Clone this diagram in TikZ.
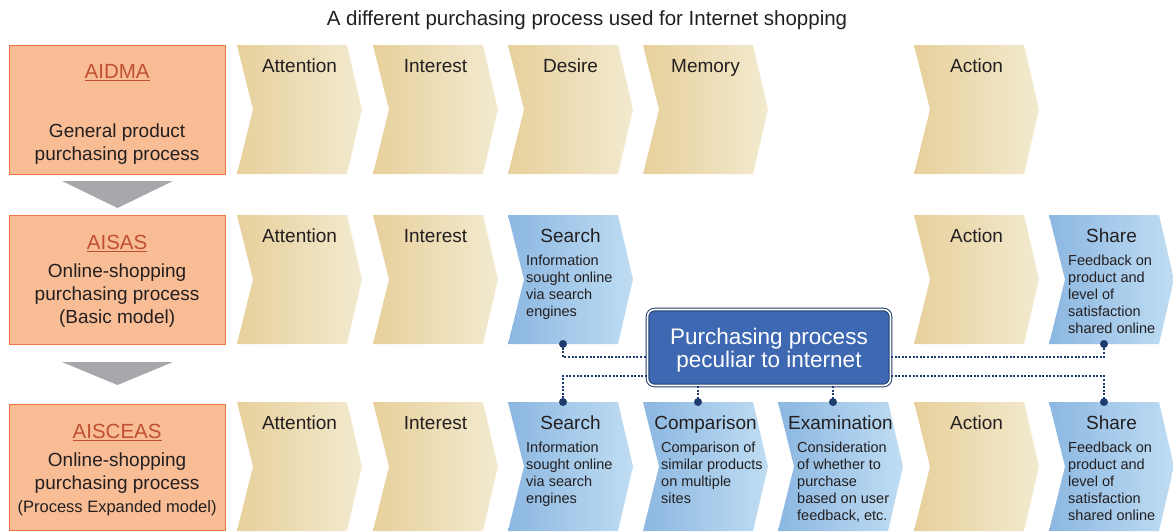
\documentclass[tikz,border=0pt]{standalone}
\usepackage{fontspec}
\setmainfont{Liberation Sans}
\usetikzlibrary{positioning}
\definecolor{modelfill}{HTML}{F9BD95}
\definecolor{modeledge}{HTML}{EE7642}
\definecolor{modelred}{HTML}{C0502F}
\definecolor{arrowgray}{HTML}{A6A8AB}
\definecolor{goldL}{HTML}{E7D09C}
\definecolor{goldR}{HTML}{F2EACF}
\definecolor{blueL}{HTML}{8CB7E1}
\definecolor{blueR}{HTML}{BFDDF3}
\definecolor{ppfill}{HTML}{3F68B2}
\definecolor{navy}{HTML}{1F3C6E}
\definecolor{ink}{HTML}{231F20}
\newcommand\chev[5]{%
  \node[chevbody] (#1) at (#2,#3) {};
  \shade[#4] (#1.north west) -- (#1.north east) -- ([xshift=15pt]#1.east) -- (#1.south east) -- (#1.south west) -- ([xshift=16pt]#1.west) -- cycle;
  \node[chevtitle] (#1-t) at ([xshift=7.5pt,yshift=-27pt]#1.north) {#5};
}

\begin{document}
\begin{tikzpicture}[x=1pt,y=-1pt,
  model/.style={draw=modeledge,line width=1.2pt,fill=modelfill,minimum width=216pt,inner sep=0pt,anchor=north west},
  modeltitle/.style={text=modelred,font=\fontsize{20.5}{24}\selectfont,anchor=base},
  modeltext/.style={text=ink,font=\fontsize{19}{23}\selectfont,align=center,anchor=base},
  chevbody/.style={minimum width=110pt,minimum height=129pt,inner sep=0pt,outer sep=0pt,anchor=north west},
  gold/.style={left color=goldL,right color=goldR},
  blue/.style={left color=blueL,right color=blueR},
  chevtitle/.style={text=ink,font=\fontsize{19}{23}\selectfont,anchor=base},
  chevdesc/.style={text=ink,font=\fontsize{14.5}{17}\selectfont,align=left,anchor=base west,inner sep=0pt},
  link/.style={navy,line width=2.1pt,dash pattern=on 2pt off 1.6pt},
  dot/.style={fill=navy}]
\useasboundingbox (0,0) rectangle (1173,531);

\node[text=ink,font=\fontsize{20.5}{24}\selectfont,anchor=base] (head) at (587,25) {A different purchasing process used for Internet shopping};

\node[model,minimum height=129pt] (m1) at (8.5,44.5) {};
\node[model,minimum height=129pt] (m2) at (8.5,214.5) {};
\node[model,minimum height=126pt] (m3) at (8.5,403.5) {};
\node[modeltitle] (m1-t) at ([yshift=-34pt]m1.north) {\underline{AIDMA}};
\node[modeltext] (m1-d) at ([yshift=-116pt]m1.north) {General product\\purchasing process};
\node[modeltitle] (m2-t) at ([yshift=-35pt]m2.north) {\underline{AISAS}};
\node[modeltext] (m2-d) at ([yshift=-109pt]m2.north) {Online-shopping\\purchasing process\\(Basic model)};
\node[modeltitle] (m3-t) at ([yshift=-35pt]m3.north) {\underline{AISCEAS}};
\node[modeltext] (m3-d) at ([yshift=-109pt]m3.north) {Online-shopping\\purchasing process\\{\fontsize{16.5}{23}\selectfont(Process Expanded model)}};

\fill[arrowgray] (62,181) -- (173,181) -- (117.5,208) -- cycle;
\fill[arrowgray] (62,362) -- (173,362) -- (117.5,385) -- cycle;

\chev{att1}{237}{45}{gold}{Attention}
\chev{int1}{373}{45}{gold}{Interest}
\chev{des1}{508}{45}{gold}{Desire}
\chev{mem1}{643}{45}{gold}{Memory}
\chev{act1}{914}{45}{gold}{Action}

\chev{att2}{237}{215}{gold}{Attention}
\chev{int2}{373}{215}{gold}{Interest}
\chev{srch2}{508}{215}{blue}{Search}
\chev{act2}{914}{215}{gold}{Action}
\chev{share2}{1049}{215}{blue}{Share}

\chev{att3}{237}{402}{gold}{Attention}
\chev{int3}{373}{402}{gold}{Interest}
\chev{srch3}{508}{402}{blue}{Search}
\chev{cmp3}{643}{402}{blue}{Comparison}
\chev{exam3}{778}{402}{blue}{Examination}
\chev{act3}{914}{402}{gold}{Action}
\chev{share3}{1049}{402}{blue}{Share}

\node[chevdesc] (srch2-d) at ([xshift=18pt,yshift=-101pt]srch2.north west) {Information\\sought online\\via search\\engines};
\node[chevdesc] (share2-d) at ([xshift=19pt,yshift=-118pt]share2.north west) {Feedback on\\product and\\level of\\satisfaction\\shared online};
\node[chevdesc] (srch3-d) at ([xshift=18pt,yshift=-101pt]srch3.north west) {Information\\sought online\\via search\\engines};
\node[chevdesc] (cmp3-d) at ([xshift=18pt,yshift=-101pt]cmp3.north west) {Comparison of\\similar products\\on multiple\\sites};
\node[chevdesc] (exam3-d) at ([xshift=19pt,yshift=-118pt]exam3.north west) {Consideration\\of whether to\\purchase\\based on user\\feedback, etc.};
\node[chevdesc] (share3-d) at ([xshift=19pt,yshift=-118pt]share3.north west) {Feedback on\\product and\\level of\\satisfaction\\shared online};

\node[draw=navy,line width=1pt,double=white,double distance=1.6pt,fill=ppfill,rounded corners=7pt,minimum width=243pt,minimum height=76pt] (pp) at (769,347.5) {};
\node[text=white,font=\fontsize{22.5}{23}\selectfont,align=center] (pp-t) at ([yshift=-3pt]pp.center) {Purchasing process\\peculiar to internet};

\draw[link] (srch2.south) |- ([yshift=-9.5pt]pp.west);
\draw[link] ([yshift=-9.5pt]pp.east) -| (share2.south);
\draw[link] ([yshift=-28.5pt]pp.west) -| (srch3.north);
\draw[link] ([yshift=-28.5pt]pp.east) -| (share3.north);
\draw[link] (pp.south -| cmp3.north) -- (cmp3.north);
\draw[link] (pp.south -| exam3.north) -- (exam3.north);

\fill[dot] (srch2.south) circle (4pt);
\fill[dot] (share2.south) circle (4pt);
\fill[dot] (srch3.north) circle (4pt);
\fill[dot] (cmp3.north) circle (4pt);
\fill[dot] (exam3.north) circle (4pt);
\fill[dot] (share3.north) circle (4pt);
\end{tikzpicture}
\end{document}
